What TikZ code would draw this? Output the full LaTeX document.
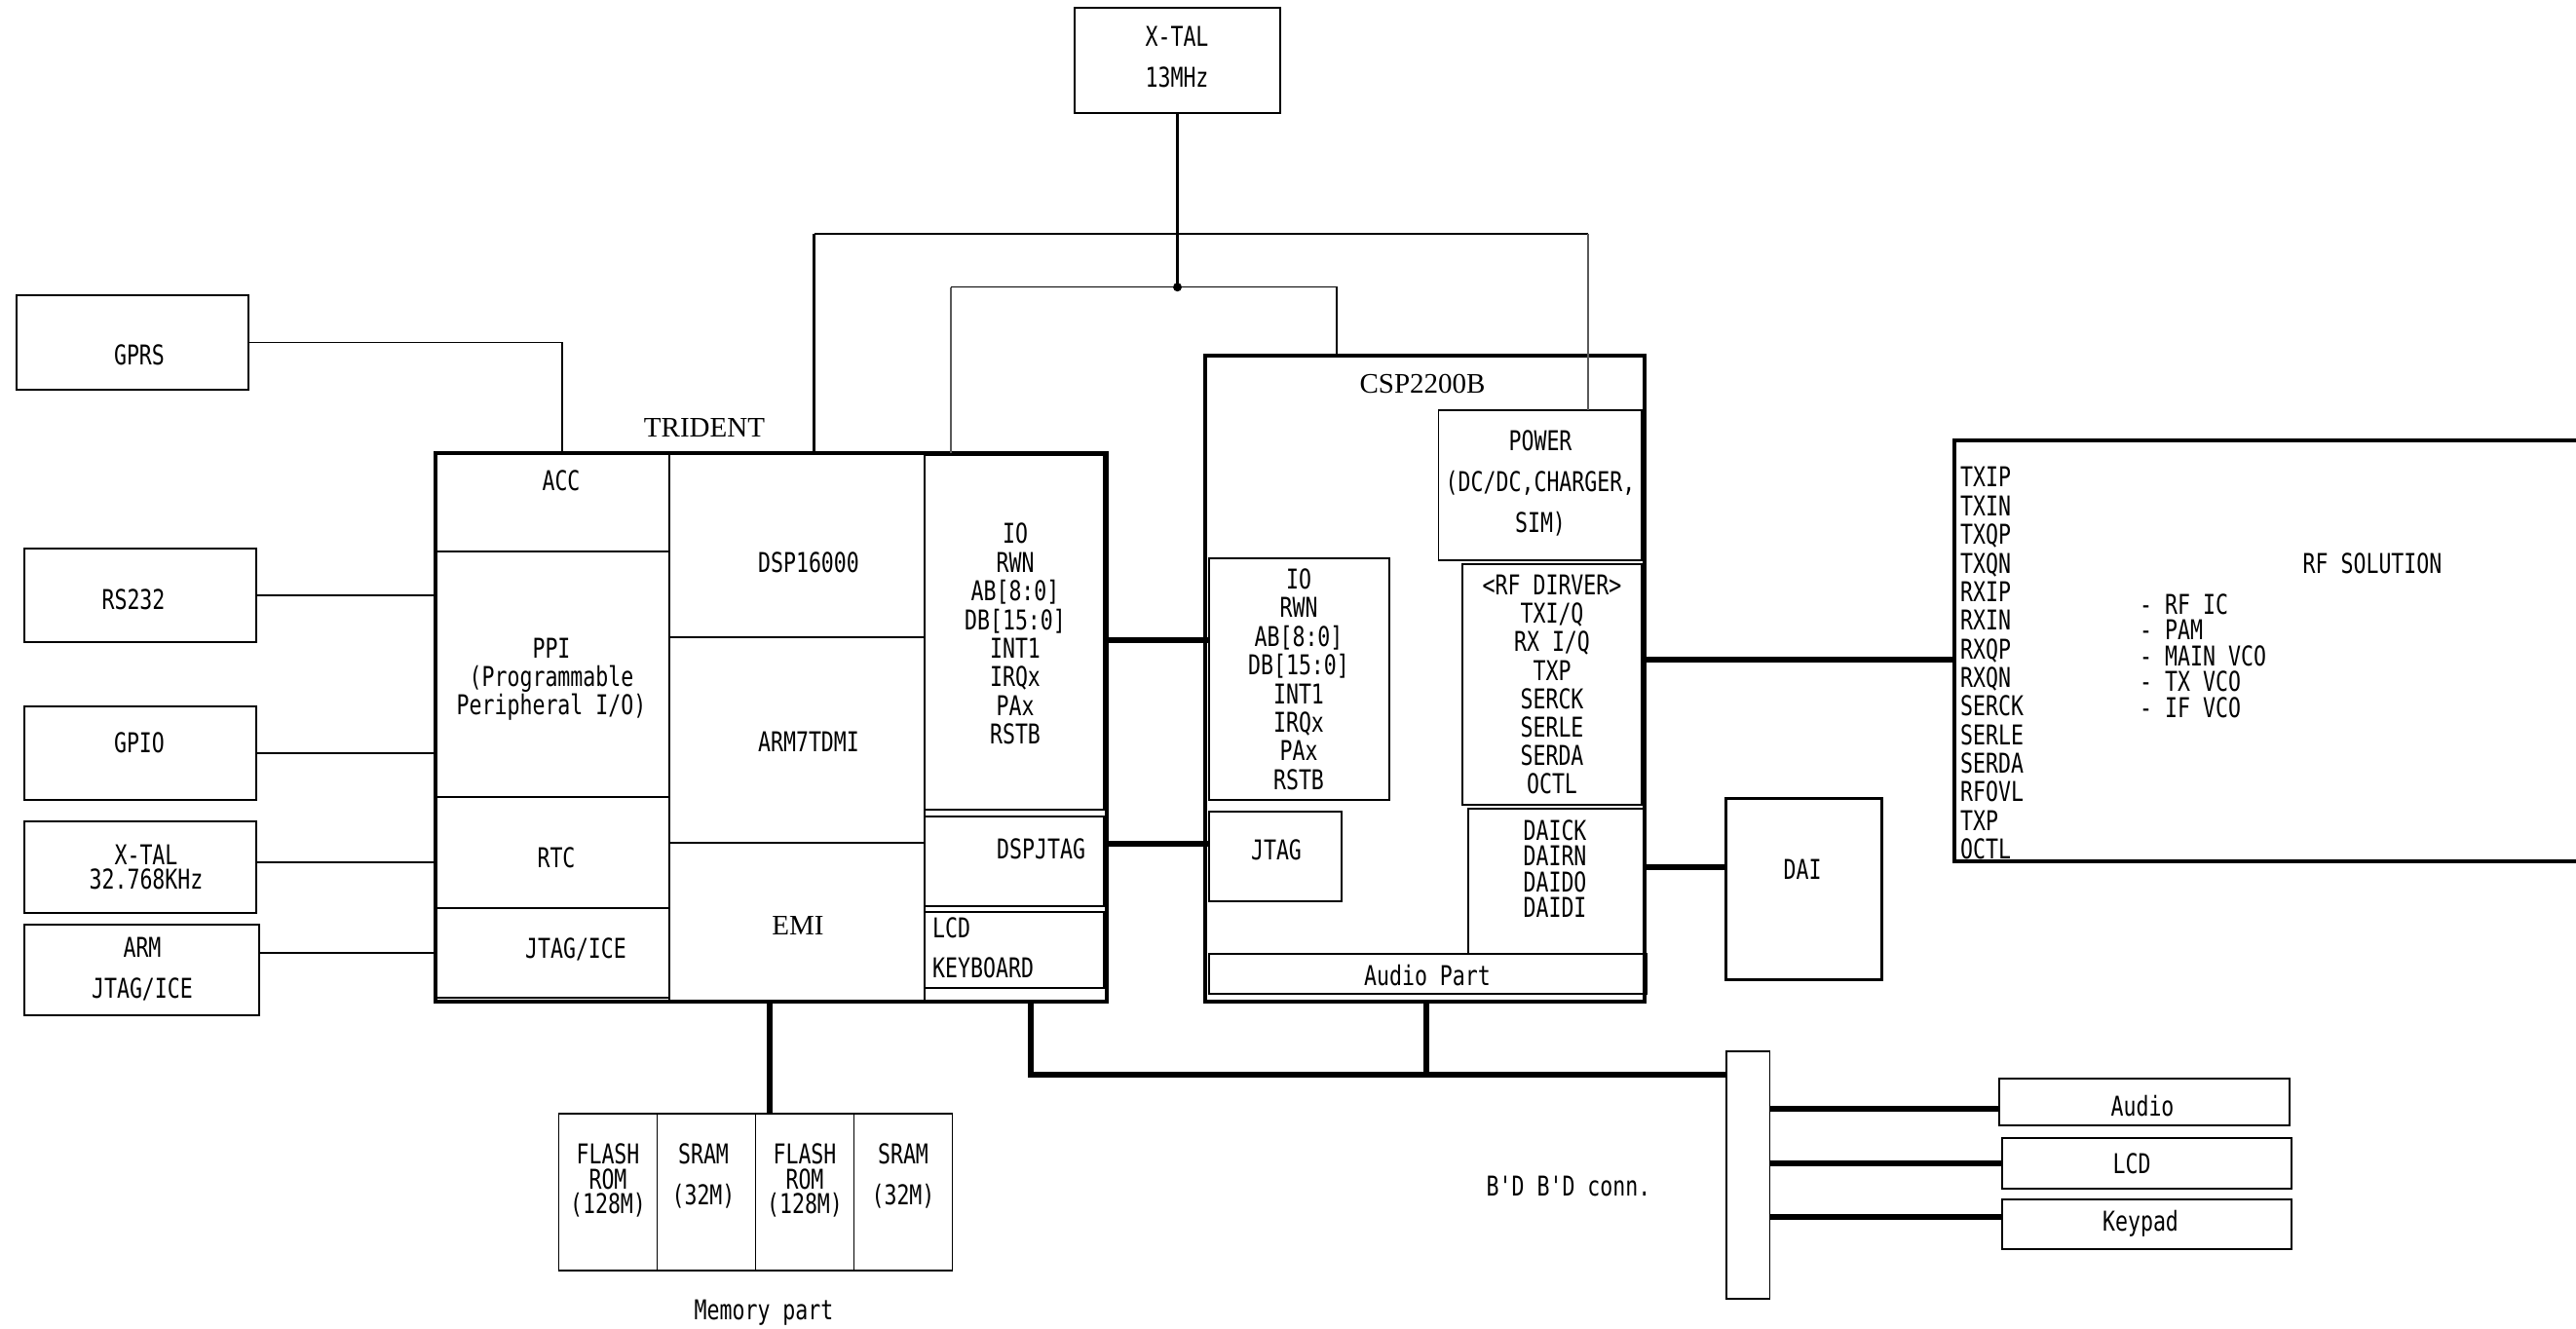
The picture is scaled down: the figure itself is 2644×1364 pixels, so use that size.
\documentclass[tikz,border=0pt]{standalone}
\usepackage{fontspec}
\newfontfamily\mon[FakeStretch=0.77]{DejaVu Sans Mono}
\newfontfamily\ser{Liberation Serif}
\newcommand\bxn[6]{\node[#6, minimum width={(#4)-(#2)}, minimum height={(#5)-(#3)}] (#1) at ({((#2)+(#4))/2},{((#3)+(#5))/2}) {};}
\tikzset{
 bx/.style={draw, line width=1.6pt, inner sep=0pt, outer sep=0pt},
 hbx/.style={bx, line width=4pt},
 mbx/.style={bx, line width=3pt},
 lbl/.style={font=\mon\fontsize{28}{29.4}\selectfont, inner sep=0pt, align=center},
 srf/.style={font=\ser\fontsize{29}{32}\selectfont, inner sep=0pt},
 ln/.style={line width=1.5pt},
 gln/.style={line width=1.5pt, black!65},
 mln/.style={line width=2.5pt},
 bus/.style={line width=6pt},
}
\begin{document}
\begin{tikzpicture}[x=1pt,y=-1pt]
\useasboundingbox (0,0) rectangle (2644,1364);
\fill[white] (0,0) rectangle (2644,1364);
\clip (0,0) rectangle (2644,1364);
% boxes
\bxn{xtalA}{1103}{8}{1314}{116}{bx}
\bxn{gprs}{17}{303}{255}{400}{bx}
\bxn{rs}{25}{563}{263}{659}{bx}
\bxn{gpio}{25}{725}{263}{821}{bx}
\bxn{xtalB}{25}{843}{263}{937}{bx}
\bxn{armj}{25}{949}{266}{1042}{bx}
\bxn{acc}{447}{465}{687}{566}{bx}
\bxn{ppi}{447}{566}{687}{818}{bx}
\bxn{rtc}{447}{818}{687}{932}{bx}
\bxn{ajtag}{447}{932}{687}{1024}{bx}
\bxn{dsp}{687}{465}{949}{654}{bx}
\bxn{arm}{687}{654}{949}{865}{bx}
\bxn{emi}{687}{865}{949}{1028}{bx}
\bxn{tio}{949}{467}{1133}{831}{bx}
\bxn{djtag}{949}{838}{1133}{930}{bx}
\bxn{lcdk}{949}{936}{1133}{1014}{bx}
\bxn{trident}{447}{465}{1136}{1028}{hbx}
\bxn{pwr}{1476.5}{421}{1685}{575}{bx}
\bxn{cio}{1241}{573}{1426}{821}{bx}
\bxn{cjtag}{1241}{833}{1377}{925}{bx}
\bxn{rfd}{1501}{579}{1685}{826}{bx}
\bxn{dai1}{1507}{830}{1688}{979}{bx}
\bxn{aud}{1241}{979}{1690}{1020}{bx}
\bxn{csp}{1237}{364.5}{1688}{1028}{hbx}
\bxn{dai}{1771}{819}{1931}{1005}{mbx}
\bxn{rf}{2006}{452}{2700}{884}{hbx}
\bxn{mem1}{573.5}{1142.7}{674.5}{1304}{bx}
\bxn{mem2}{674.5}{1142.7}{775.5}{1304}{bx}
\bxn{mem3}{775.5}{1142.7}{876.6}{1304}{bx}
\bxn{mem4}{876.6}{1142.7}{977.6}{1304}{bx}
\bxn{bdc}{1772}{1079}{1816.5}{1333}{bx}
\bxn{audio}{2052}{1107}{2350}{1155}{bx}
\bxn{lcd}{2055}{1168}{2352}{1220}{bx}
\bxn{keyp}{2055}{1231}{2352}{1282}{bx}
% texts
\node[lbl, font=\mon\fontsize{28}{42}\selectfont] (tXA) at (1208,58) {X-TAL\\13MHz};
\node[lbl] (tGPRS) at (143,364) {GPRS};
\node[lbl] (tRS) at (137,615) {RS232};
\node[lbl] (tGPIO) at (143,762) {GPIO};
\node[lbl, font=\mon\fontsize{28}{25.5}\selectfont] (tXB) at (150,890) {X-TAL\\32.768KHz};
\node[lbl, font=\mon\fontsize{28}{42}\selectfont] (tARM) at (146,995) {ARM\\JTAG/ICE};
\node[srf] (tTRI) at (723,439) {TRIDENT};
\node[lbl] (tACC) at (576,493) {ACC};
\node[lbl, font=\mon\fontsize{28}{29}\selectfont] (tPPI) at (566,697) {PPI\\(Programmable\\Peripheral I/O)};
\node[lbl] (tRTC) at (571,880) {RTC};
\node[lbl] (tAJ) at (591,974) {JTAG/ICE};
\node[lbl] (tDSP) at (830,577) {DSP16000};
\node[lbl] (tARM7) at (830,761) {ARM7TDMI};
\node[srf] (tEMI) at (819,950) {EMI};
\node[lbl] (tIO) at (1042,650.6) {IO\\RWN\\AB[8:0]\\DB[15:0]\\INT1\\IRQx\\PAx\\RSTB};
\node[lbl] (tDJ) at (1068.6,871) {DSPJTAG};
\node[lbl, anchor=west] (tLCD) at (957,952) {LCD};
\node[lbl, anchor=west] (tKB) at (957,993) {KEYBOARD};
\node[srf] (tCSP) at (1460,394) {CSP2200B};
\node[lbl, font=\mon\fontsize{28}{42}\selectfont] (tPWR) at (1581,496) {POWER\\(DC/DC,CHARGER,\\SIM)};
\node[lbl] (tCIO) at (1333,697.3) {IO\\RWN\\AB[8:0]\\DB[15:0]\\INT1\\IRQx\\PAx\\RSTB};
\node[lbl] (tCJ) at (1310,872) {JTAG};
\node[lbl, font=\mon\fontsize{28}{29.2}\selectfont] (tRFD) at (1593,702.7) {<RF DIRVER>\\TXI/Q\\RX I/Q\\TXP\\SERCK\\SERLE\\SERDA\\OCTL};
\node[lbl, font=\mon\fontsize{28}{26.3}\selectfont] (tDAIs) at (1596,891.5) {DAICK\\DAIRN\\DAIDO\\DAIDI};
\node[lbl] (tAP) at (1465,1001) {Audio Part};
\node[lbl] (tDAI) at (1850,892) {DAI};
\node[lbl, anchor=west, align=left, font=\mon\fontsize{28}{29.36}\selectfont] (tPins) at (2012,680.8) {TXIP\\TXIN\\TXQP\\TXQN\\RXIP\\RXIN\\RXQP\\RXQN\\SERCK\\SERLE\\SERDA\\RFOVL\\TXP\\OCTL};
\node[lbl] (tRFS) at (2435,578) {RF SOLUTION};
\node[lbl, anchor=west, align=left, font=\mon\fontsize{28}{26.5}\selectfont] (tRFL) at (2196,673) {- RF IC\\- PAM\\- MAIN VCO\\- TX VCO\\- IF VCO};
\node[lbl, font=\mon\fontsize{28}{25.8}\selectfont] (tM1) at (624,1211.5) {FLASH\\ROM\\(128M)};
\node[lbl, font=\mon\fontsize{28}{42}\selectfont] (tM2) at (722,1206.7) {SRAM\\(32M)};
\node[lbl, font=\mon\fontsize{28}{25.8}\selectfont] (tM3) at (826,1211.5) {FLASH\\ROM\\(128M)};
\node[lbl, font=\mon\fontsize{28}{42}\selectfont] (tM4) at (927,1206.7) {SRAM\\(32M)};
\node[lbl] (tMP) at (784,1347) {Memory part};
\node[lbl] (tBD) at (1610,1217) {B'D B'D conn.};
\node[lbl] (tAud) at (2199,1135) {Audio};
\node[lbl] (tLCDb) at (2188,1194) {LCD};
\node[lbl] (tKey) at (2197,1256) {Keypad};
% coordinates
\coordinate (dot) at (1208.5,294.7);
\coordinate (ibL) at (976,294.7);
\coordinate (ibR) at (1372,294.7);
\coordinate (obL) at (835.5,240);
\coordinate (obR) at (1630,240);
\coordinate (accIn) at (577,465);
\coordinate (ioBus) at (1136,657);
\coordinate (jBus) at (1136,866);
\coordinate (rfBus) at (1688,677);
\coordinate (daiBus) at (1688,890);
\coordinate (memIn) at (790,1142.7);
\coordinate (busL) at (1057.6,1103.3);
\coordinate (busC) at (1464,1103.3);
% connectors
\draw[mln] (xtalA.south) -- (dot);
\fill (dot) circle (4.5);
\draw[ln] (ibR |- csp.north) -- (ibR) -- (ibL);
\draw[gln] (ibL) -- (ibL |- trident.north);
\draw[mln] (trident.north -| obL) -- (obL);
\draw[ln] (obL) -- (obR);
\draw[gln] (obR) -- (obR |- pwr.north);
\draw[ln] (gprs.east) -| (accIn);
\draw[mln] (rs.east) -- (rs.east -| trident.west);
\draw[mln] (gpio.east) -- (gpio.east -| trident.west);
\draw[ln] ([yshift=5pt]xtalB.east) -- ([yshift=5pt]xtalB.east -| trident.west);
\draw[ln] (armj.east |- ajtag) -- (ajtag.west);
\draw[bus] (trident.east |- ioBus) -- (ioBus -| cio.west);
\draw[bus] (trident.east |- jBus) -- (jBus -| cjtag.west);
\draw[bus] (csp.east |- rfBus) -- (rfBus -| rf.west);
\draw[bus] (csp.east |- daiBus) -- (daiBus -| dai.west);
\draw[bus] (memIn |- trident.south) -- (memIn);
\draw[bus] (busL |- trident.south) -- (busL) -- (busL -| bdc.west);
\draw[bus] (busC |- csp.south) -- (busC);
\draw[bus] ([yshift=-7.3pt]audio.west -| bdc.east) -- ([yshift=-7.3pt]audio.west);
\draw[bus] (lcd.west -| bdc.east) -- (lcd.west);
\draw[bus] ([yshift=7.2pt]keyp.west -| bdc.east) -- ([yshift=7.2pt]keyp.west);
\end{tikzpicture}
\end{document}
